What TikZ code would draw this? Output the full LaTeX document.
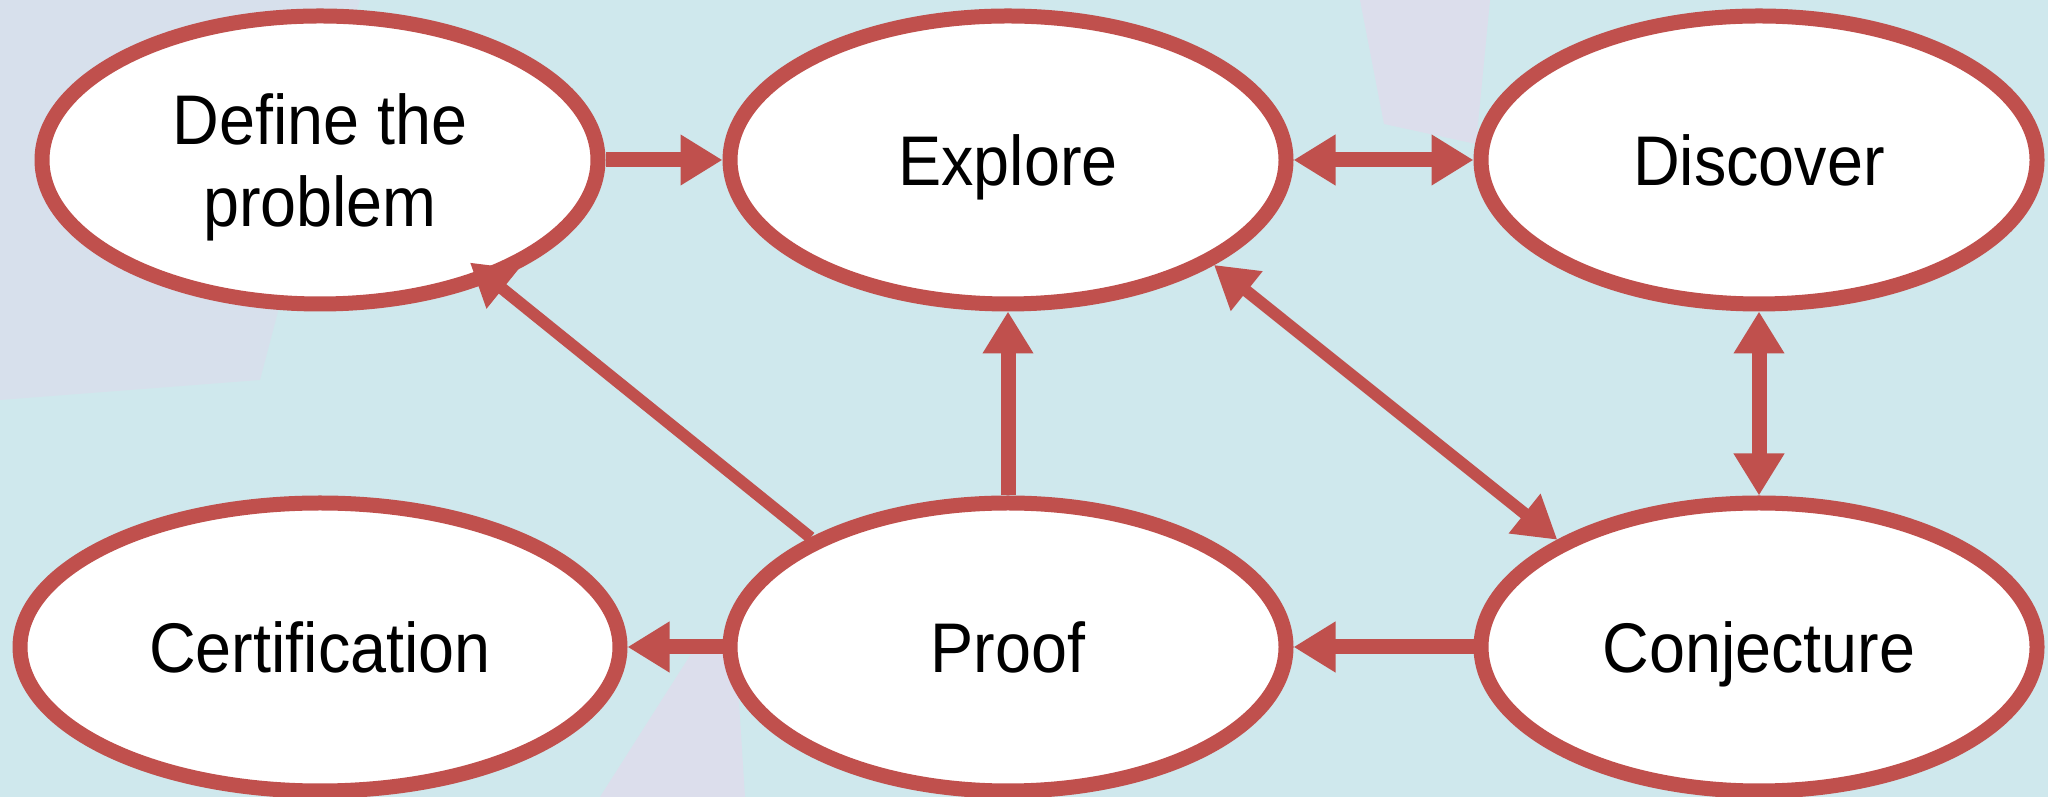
\documentclass[tikz,border=0pt]{standalone}
\usepackage{fontspec}
\setmainfont{Liberation Sans}[FakeStretch=0.92]
\usepackage{xcolor}
\usetikzlibrary{shapes.geometric,arrows.meta}
\definecolor{edgeRed}{RGB}{192,80,77}
\definecolor{bgCyan}{RGB}{207,232,237}
\definecolor{bgLilac}{RGB}{221,220,236}
\definecolor{bgPink}{RGB}{230,216,236}

\begin{document}
\begin{tikzpicture}[x=0.1mm, y=-0.1mm,
        stage/.style={ellipse, draw=edgeRed, line width=1.5mm, fill=white,
            minimum width=55.6mm, minimum height=28.8mm, inner sep=0pt,
            align=center, text depth=0pt, font=\fontsize{20}{23.5}\selectfont},
        link/.style={draw=edgeRed, line width=1.5mm},
        thin link/.style={link, line width=1.2mm},
        >={Triangle[length=4.2mm, width=4.8mm]}]
            \path[use as bounding box, fill=bgCyan] (0,0) rectangle (2048,797);
            \fill[bgLilac, opacity=0.6] (0,0) -- (360,0) -- (260,380) -- (0,400) -- cycle;
            \fill[bgPink, opacity=0.6] (1360,0) -- (1490,0) -- (1476,144) -- (1384,124) -- cycle;
            \fill[bgPink, opacity=0.6] (700,640) -- (735,640) -- (745,797) -- (600,797) -- cycle;
            \node[stage] (defProb) at (320,160) {Define the\\problem};
            \node[stage] (explore) at (1008,160) {Explore};
            \node[stage] (discover) at (1759,160) {Discover};
            \node[stage, minimum width=60mm] (certif) at (320,647) {Certification};
            \node[stage] (proof) at (1008,647) {Proof};
            \node[stage] (conject) at (1759,647) {Conjecture};
            \draw[link, ->] (defProb) -- (explore);
            \draw[link, <->] (explore) -- (discover);
            \draw[link, <->] (discover) -- (conject);
            \draw[link, ->] (proof) -- (explore);
            \draw[link, ->] (conject) -- (proof);
            \draw[link, ->] (proof) -- (certif);
            \draw[thin link, ->, shorten >=-2.9mm] (proof.151) -- (defProb.-35);
            \draw[thin link, <->] (explore.-27.5) -- (conject.152.5);
\end{tikzpicture}
\end{document}
